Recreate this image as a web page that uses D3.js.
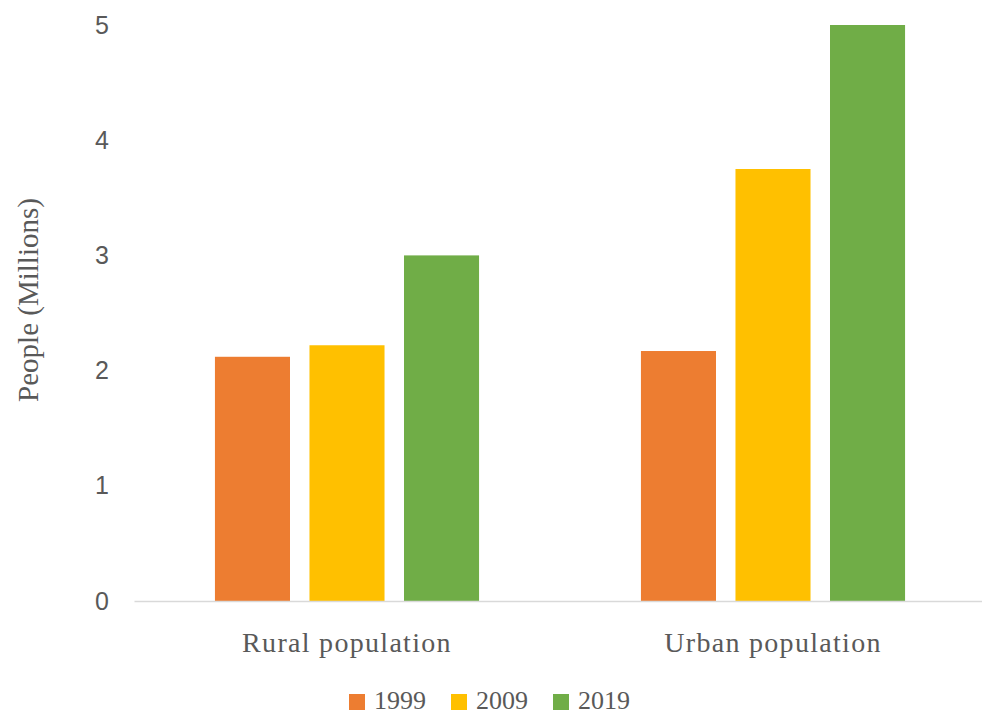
<!DOCTYPE html>
<html>
<head>
<meta charset="utf-8">
<script src="https://cdn.jsdelivr.net/npm/d3@7"></script>
<style>
  body { margin: 0; background: #fff; }
  svg { display: block; }
</style>
</head>
<body>
<script>
// data
const categories = ['Rural population', 'Urban population'];
const years = ['1999', '2009', '2019'];
const values1999 = [2.12, 2.17];
const values2009 = [2.22, 3.75];
const values2019 = [3.0, 5.0];
const yTicks = [0, 1, 2, 3, 4, 5];
const colors = ['#ED7D31', '#FFC000', '#70AD47'];

const seriesValues = [values1999, values2009, values2019];

const svgWidth = 982;
const svgHeight = 716;
const margin = { top: 25, right: -4, bottom: 115, left: 134 };

const svg = d3.select('body').append('svg')
    .attr('width', svgWidth)
    .attr('height', svgHeight);

// scales
const xScale = d3.scaleBand()
    .domain(categories)
    .range([margin.left, svgWidth - margin.right])
    .padding(0);

const bw = xScale.bandwidth();
const outer = bw * 0.19;
const xInner = d3.scaleBand()
    .domain(years)
    .range([outer, bw - outer])
    .paddingInner(0.206)
    .paddingOuter(0);

const yScale = d3.scaleLinear()
    .domain([0, 5])
    .range([svgHeight - margin.bottom, margin.top]);

// bars
const rows = [];
categories.forEach((c, i) => {
    years.forEach((y, j) => {
        rows.push({ cat: c, year: y, value: seriesValues[j][i], color: colors[j] });
    });
});

svg.append('g')
    .selectAll('rect')
    .data(rows)
    .enter().append('rect')
    .attr('x', d => xScale(d.cat) + xInner(d.year))
    .attr('y', d => yScale(d.value))
    .attr('width', xInner.bandwidth())
    .attr('height', d => yScale(0) - yScale(d.value))
    .attr('fill', d => d.color);

// y axis (labels only)
const yAxis = d3.axisLeft(yScale)
    .tickValues(yTicks)
    .tickSize(0)
    .tickPadding(0)
    .tickFormat(d3.format('d'));

const yg = svg.append('g')
    .attr('transform', `translate(109,0)`)
    .call(yAxis);
yg.select('.domain').remove();
yg.selectAll('text')
    .attr('fill', '#595959')
    .style('font-family', '"Liberation Sans", Arial, sans-serif')
    .style('font-size', '25px');

// x axis
const xAxis = d3.axisBottom(xScale).tickSize(0).tickPadding(0);
const xg = svg.append('g')
    .attr('transform', `translate(0,${yScale(0)})`)
    .call(xAxis);
xg.select('.domain')
    .attr('stroke', '#d9d9d9')
    .attr('stroke-width', 1.5);
xg.selectAll('text')
    .attr('dy', 0)
    .attr('y', 51)
    .attr('fill', '#595959')
    .style('font-family', '"Liberation Serif", "Times New Roman", serif')
    .style('font-size', '28px')
    .style('letter-spacing', '1.3px');

// axis title
svg.append('text')
    .attr('transform', `translate(38,300) rotate(-90)`)
    .attr('text-anchor', 'middle')
    .attr('fill', '#595959')
    .style('font-family', '"Liberation Serif", "Times New Roman", serif')
    .style('font-size', '29px')
    .text('People (Millions)');

// legend
const legendX = [349, 451, 553];
const legend = svg.append('g');
years.forEach((y, i) => {
    legend.append('rect')
        .attr('x', legendX[i])
        .attr('y', 694)
        .attr('width', 16)
        .attr('height', 16)
        .attr('fill', colors[i]);
    legend.append('text')
        .attr('x', legendX[i] + 25)
        .attr('y', 709)
        .attr('fill', '#595959')
        .style('font-family', '"Liberation Serif", "Times New Roman", serif')
        .style('font-size', '26px')
        .text(y);
});
</script>
</body>
</html>
